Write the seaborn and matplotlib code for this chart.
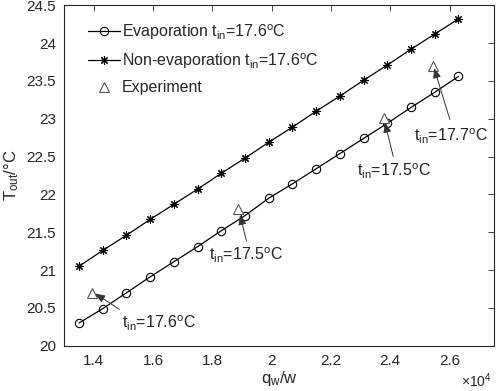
import matplotlib
matplotlib.use("Agg")
import matplotlib.pyplot as plt
import seaborn as sns
import pandas as pd
from matplotlib.ticker import FuncFormatter, MultipleLocator

# ---- data ----
qw = [13500, 14300, 15100, 15900, 16700, 17500, 18300, 19100, 19900,
      20700, 21500, 22300, 23100, 23900, 24700, 25500, 26300]
t_evap = [20.30, 20.49, 20.70, 20.91, 21.11, 21.31, 21.52, 21.72, 21.95,
          22.14, 22.34, 22.54, 22.74, 22.94, 23.15, 23.35, 23.56]
t_nonevap = [21.05, 21.26, 21.46, 21.67, 21.87, 22.07, 22.28, 22.48, 22.69,
             22.89, 23.10, 23.30, 23.51, 23.71, 23.92, 24.12, 24.32]
exp_qw = [13940, 18850, 23800, 25430]
exp_t = [20.70, 21.81, 23.01, 23.70]
ann_labels = ["17.6", "17.5", "17.5", "17.7"]
ann_tip = [(14040, 20.69), (18930, 21.73), (23820, 22.95), (25480, 23.67)]
ann_tail = [(14860, 20.48), (19150, 21.38), (24100, 22.50), (26010, 22.99)]
ann_text = [(14940, 20.29), (17890, 21.19), (22890, 22.30), (24800, 22.77)]
legend_labels = [r"Evaporation t$_{\mathrm{in}}$=17.6$^{\mathrm{o}}$C",
                 r"Non-evaporation t$_{\mathrm{in}}$=17.6$^{\mathrm{o}}$C",
                 "Experiment"]

sns.set_theme(style="white")
plt.rcParams['font.family'] = ['Liberation Sans', 'DejaVu Sans']
plt.rcParams['mathtext.fontset'] = 'custom'
plt.rcParams['mathtext.rm'] = 'Liberation Sans'
plt.rcParams['mathtext.it'] = 'Liberation Sans:italic'
plt.rcParams['mathtext.bf'] = 'Liberation Sans:bold'

fs = 11
fig = plt.figure(figsize=(4.98, 3.91), dpi=100)
ax = fig.add_axes([0.129, 0.1159, 0.863, 0.8705])

df1 = pd.DataFrame({"qw": qw, "T": t_evap})
df2 = pd.DataFrame({"qw": qw, "T": t_nonevap})
df3 = pd.DataFrame({"qw": exp_qw, "T": exp_t})

sns.lineplot(data=df1, x="qw", y="T", ax=ax, color="black", lw=0.9,
             marker="o", markersize=6, markerfacecolor="none",
             markeredgecolor="black", markeredgewidth=0.8,
             label=legend_labels[0])
sns.lineplot(data=df2, x="qw", y="T", ax=ax, color="black", lw=0.9,
             marker=(8, 2, 0), markersize=6, markeredgecolor="black",
             markeredgewidth=0.8, label=legend_labels[1])
ax.plot(df3["qw"], df3["T"], ls="none", marker="^", markersize=7,
        markerfacecolor="white", markeredgecolor="#555555",
        markeredgewidth=0.8, label=legend_labels[2])

for lab, tip, tail, tp in zip(ann_labels, ann_tip, ann_tail, ann_text):
    ax.annotate("", xy=tip, xytext=tail,
                arrowprops=dict(arrowstyle="-|>,head_length=0.5,head_width=0.2",
                                color="#333333", lw=0.7, shrinkA=0, shrinkB=0))
    ax.text(tp[0], tp[1], r"t$_{\mathrm{in}}$=" + lab + r"$^{\mathrm{o}}$C",
            fontsize=fs + 0.5, ha="left", va="center", color="#222222")

ax.set_xlim(13000, 27500)
ax.set_ylim(20, 24.5)
ax.yaxis.set_major_locator(MultipleLocator(0.5))
ax.set_xticks([14000, 16000, 18000, 20000, 22000, 24000, 26000])
ax.xaxis.set_major_formatter(FuncFormatter(lambda v, p: f"{v/1e4:g}"))
ax.yaxis.set_major_formatter(FuncFormatter(lambda v, p: f"{v:g}"))
ax.tick_params(direction="in", length=4, width=0.6, top=True, right=True,
               labelsize=fs, colors="#262626", pad=6)
for s in ax.spines.values():
    s.set_color("#262626")
    s.set_linewidth(0.8)

ax.set_xlabel(r"q$_{\mathrm{w}}$/w", fontsize=fs + 1, color="#262626", labelpad=1)
ax.set_ylabel(r"T$_{\mathrm{out}}$/°C", fontsize=fs + 1, color="#262626", labelpad=4)
fig.text(0.957, 0.003, r"$\times$10$^{4}$", fontsize=fs - 1, ha="center",
         va="bottom", color="#262626")

ax.legend(loc="upper left", bbox_to_anchor=(0.04, 0.97), frameon=False,
          fontsize=fs + 0.5, handlelength=2.0, handletextpad=0.15,
          labelspacing=0.6, borderaxespad=0)

fig.savefig("out.png", dpi=100)
